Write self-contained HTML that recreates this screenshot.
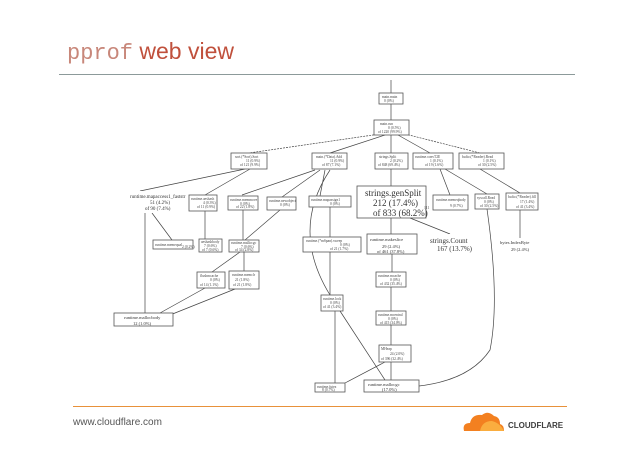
<!DOCTYPE html>
<html><head><meta charset="utf-8"><style>
body{margin:0;width:638px;height:451px;background:#fff;overflow:hidden;position:relative;font-family:"Liberation Sans",sans-serif}
</style></head><body>
<div style="position:absolute;left:67px;top:38px;font-size:23px;color:#c0503c;white-space:nowrap"><span style="font-family:'Liberation Mono',monospace;font-size:22px;color:#c8877a">pprof</span> web view</div>
<div style="position:absolute;left:59px;top:74px;width:516px;height:1px;background:#8c9a9a"></div>
<div style="position:absolute;left:73px;top:406px;width:494px;height:1px;background:#e8913a"></div>
<div style="position:absolute;left:73px;top:417px;font-size:10px;color:#555">www.cloudflare.com</div>
<svg style="position:absolute;left:460px;top:409px" width="110" height="26">
<path d="M4 22 Q2 14 10 14 Q12 5 22 6 Q28 1 34 7 Q40 8 40 15 Q44 16 44 22 Z" fill="#f38020"/>
<path d="M20 22 Q22 12 32 12 Q40 14 44 22Z" fill="#faad3f"/>
<text x="48" y="19" font-size="8" font-weight="bold" fill="#404040" font-family="Liberation Sans">CLOUDFLARE</text>
</svg>
<svg style="position:absolute;left:0;top:0" width="638" height="451" font-family="Liberation Serif" font-size="3" fill="#333">
<g stroke="#444" stroke-width="0.7" fill="none">
<path d="M391 80V93M391 104V120"/>
<path d="M380 134L249 153" stroke-dasharray="2 1"/>
<path d="M385 135L330 153"/>
<path d="M391 135V153M398 135L430 153" />
<path d="M405 134L480 153" stroke-dasharray="2 1"/>
<path d="M245 169L140 191M250 169L205 195M315 170L242 195M320 170L282 197M325 170L320 196M330 170Q290 230 330 295"/>
<path d="M391 169V186M440 169L450 195M445 169L487 194M480 169L520 193"/>
<path d="M145 213V313M152 213L172 240M205 211V239M243 210V240M280 210L245 240M330 207V237M391 218V234M410 218L450 234M520 210V238M487 209Q500 300 490 350Q470 380 419 386"/>
<path d="M392 254V272M391 287V311M391 325V345M391 362V380M330 252V295M335 311V383M340 311L385 380M385 362L345 383"/>
<path d="M240 252L212 272M244 252V271M205 288L160 313M235 289L170 315"/>
</g>
<g stroke="#555" stroke-width="0.8" fill="#fff">
<rect x="379" y="93" width="24" height="11"/><rect x="374" y="120" width="35" height="15"/>
<rect x="231" y="153" width="36" height="16"/><rect x="312" y="153" width="35" height="16"/><rect x="375" y="153" width="33" height="16"/><rect x="413" y="153" width="40" height="16"/><rect x="459" y="153" width="45" height="16"/>
<rect x="106" y="191" width="77" height="22" stroke="none"/><rect x="189" y="195" width="28" height="16"/><rect x="228" y="196" width="30" height="14"/><rect x="267" y="197" width="29" height="13"/><rect x="309" y="196" width="42" height="11"/>
<rect x="357" y="186" width="69" height="32"/><rect x="433" y="195" width="35" height="15"/><rect x="475" y="194" width="24" height="15"/><rect x="506" y="193" width="32" height="17"/>
<rect x="153" y="240" width="40" height="9"/><rect x="199" y="239" width="23" height="13"/><rect x="229" y="240" width="30" height="12"/><rect x="303" y="237" width="58" height="15"/><rect x="367" y="234" width="50" height="20"/><rect x="424" y="234" width="54" height="19" stroke="none"/><rect x="500" y="238" width="40" height="14" stroke="none"/>
<rect x="197" y="272" width="28" height="16"/><rect x="229" y="271" width="30" height="18"/><rect x="376" y="272" width="30" height="15"/>
<rect x="321" y="295" width="22" height="16"/><rect x="376" y="311" width="30" height="14"/><rect x="114" y="313" width="59" height="13"/>
<rect x="379" y="345" width="32" height="17"/><rect x="315" y="383" width="30" height="9"/><rect x="364" y="380" width="55" height="12"/>
</g>
<g font-size="3.6" fill="#444">
<text x="382" y="98">main.main</text><text x="384" y="102">0 (0%)</text>
<text x="380" y="125">main.run</text><text x="388" y="129">0 (0.5%)</text><text x="378" y="133">of 1220 (99.9%)</text>
<text x="235" y="158">sort.(*Sort).Sort</text><text x="246" y="162">11 (0.9%)</text><text x="240" y="166">of 121 (9.9%)</text>
<text x="316" y="158">main.(*Data).Add</text><text x="330" y="162">11 (0.9%)</text><text x="322" y="166">of 87 (7.1%)</text>
<text x="379" y="158">strings.Split</text><text x="390" y="162">2 (0.2%)</text><text x="378" y="166">of 848 (69.4%)</text>
<text x="415" y="158">runtime.convT2E</text><text x="430" y="162">1 (0.1%)</text><text x="425" y="166">of 19 (1.6%)</text>
<text x="462" y="158">bufio.(*Reader).Read</text><text x="483" y="162">1 (0.1%)</text><text x="478" y="166">of 30 (2.5%)</text>
<text x="191" y="200">runtime.aeshash</text><text x="203" y="204">4 (0.3%)</text><text x="197" y="208">of 11 (0.9%)</text>
<text x="230" y="201">runtime.memmove</text><text x="240" y="205">0 (0%)</text><text x="236" y="208">of 22 (1.8%)</text>
<text x="269" y="202">runtime.newobject</text><text x="280" y="206">0 (0%)</text>
<text x="311" y="201">runtime.mapassign1</text><text x="330" y="205">0 (0%)</text>
<text x="436" y="201">runtime.memeqbody</text><text x="450" y="207">9 (0.7%)</text>
<text x="477" y="199">syscall.Read</text><text x="484" y="203">0 (0%)</text><text x="480" y="207">of 30 (2.5%)</text>
<text x="508" y="198">bufio.(*Reader).fill</text><text x="520" y="203">17 (1.4%)</text><text x="516" y="208">of 41 (3.4%)</text>
<text x="155" y="246">runtime.memequal</text><text x="182" y="248">2 (0.2%)</text>
<text x="201" y="243">aeshashbody</text><text x="204" y="247">7 (0.6%)</text><text x="202" y="251">of 7 (0.6%)</text>
<text x="231" y="244">runtime.mallocgc</text><text x="241" y="248">7 (0.6%)</text><text x="235" y="251">of 34 (2.8%)</text>
<text x="306" y="242">runtime.(*mSpan).sweep</text><text x="340" y="246">0 (0%)</text><text x="330" y="250">of 21 (1.7%)</text>
<text x="200" y="277">flushmcache</text><text x="210" y="281">0 (0%)</text><text x="200" y="286">of 14 (1.1%)</text>
<text x="232" y="276">runtime.memclr</text><text x="235" y="281">21 (1.8%)</text><text x="233" y="286">of 21 (1.8%)</text>
<text x="378" y="277">runtime.mcache</text><text x="390" y="281">0 (0%)</text><text x="380" y="285">of 432 (35.4%)</text>
<text x="323" y="300">runtime.lock</text><text x="330" y="304">0 (0%)</text><text x="323" y="308">of 41 (3.4%)</text>
<text x="378" y="316">runtime.mcentral</text><text x="388" y="320">0 (0%)</text><text x="380" y="324">of 415 (34.0%)</text>
<text x="381" y="350">MHeap</text><text x="390" y="355">24 (2.0%)</text><text x="381" y="360">of 396 (32.4%)</text>
<text x="317" y="388">runtime.futex</text><text x="322" y="391">8 (0.7%)</text>
<text x="424" y="209" font-size="3.8" fill="#555">111</text>
</g>
<text x="130" y="198" font-size="5">runtime.mapaccess1_faststr</text><text x="150" y="204" font-size="5">51 (4.2%)</text><text x="145" y="210" font-size="5">of 90 (7.4%)</text>
<text x="365" y="196" font-size="9">strings.genSplit</text><text x="373" y="206" font-size="9">212 (17.4%)</text><text x="373" y="216" font-size="9">of 833 (68.2%)</text>
<text x="430" y="243" font-size="7">strings.Count</text><text x="437" y="251" font-size="7">167 (13.7%)</text>
<text x="370" y="241" font-size="4.5">runtime.makeslice</text><text x="382" y="248" font-size="4.5">29 (2.4%)</text><text x="377" y="253" font-size="4.5">of 461 (37.8%)</text>
<text x="500" y="244" font-size="4.5">bytes.IndexByte</text><text x="511" y="251" font-size="4.5">29 (2.4%)</text>
<text x="124" y="319" font-size="4.5">runtime.mallocbody</text><text x="133" y="325" font-size="4.5">12 (1.0%)</text>
<text x="368" y="386" font-size="4.5">runtime.mallocgc</text><text x="382" y="391" font-size="4.5">(17.0%)</text>
</svg>
</body></html>
